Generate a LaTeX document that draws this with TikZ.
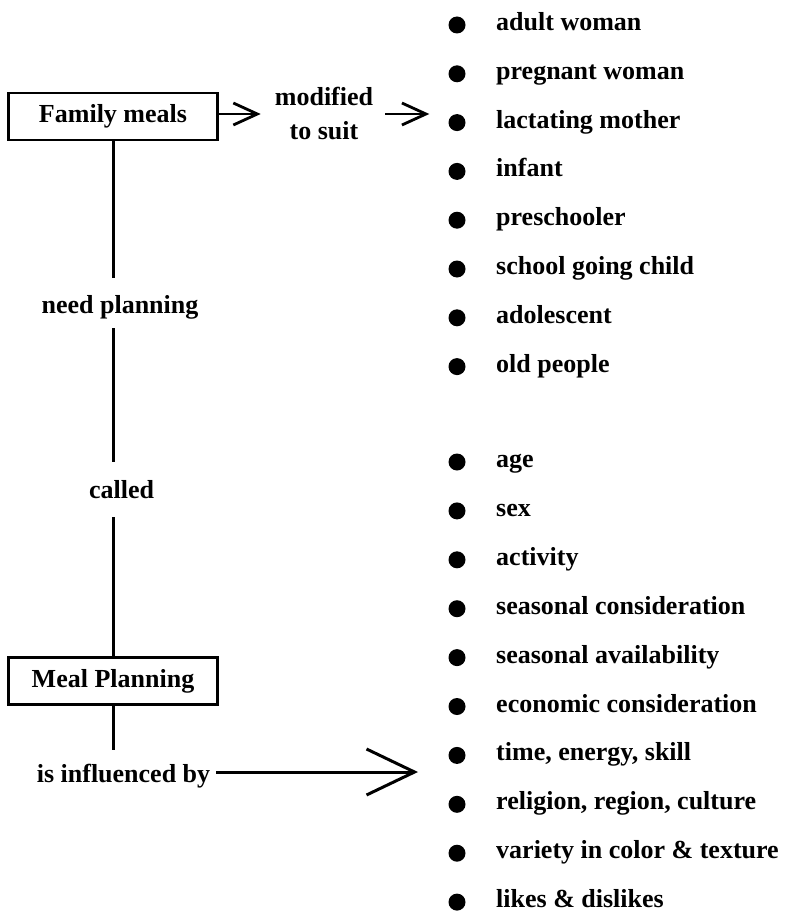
\documentclass[tikz,border=0pt]{standalone}
\usepackage{fontspec}
\setmainfont{Liberation Serif}
\usetikzlibrary{arrows.meta}
\begin{document}
\begin{tikzpicture}[x=1pt,y=-1pt,
  every node/.style={font=\fontsize{26}{34}\selectfont\bfseries},
  box/.style={draw, line width=2.6pt, minimum width=209pt, minimum height=47pt, inner sep=0pt},
  lbl/.style={inner sep=0pt, text height=18pt, text depth=6pt, anchor=base},
  bul/.style={circle, fill=black, minimum size=17pt, inner sep=0pt},
  item/.style={inner sep=0pt, anchor=base west},
  conn/.style={line width=3pt},
  smallarrow/.style={line width=2.8pt, -{Straight Barb[length=24pt,width=22pt,line width=2.8pt]}},
  bigarrow/.style={line width=3pt, -{Straight Barb[length=48pt,width=46pt,line width=3pt]}}]
\useasboundingbox (0,0) rectangle (786,915);

% left column
\node[box] (fm) at (113,116.5) {Family meals};
\node[lbl] (need) at (120,313) {need planning};
\node[lbl] (called) at (121.5,498) {called};
\node[box] (mp) at (113,681) {Meal Planning};
\node[lbl] (infl) at (123.5,782) {is influenced by};
\node[inner sep=0pt, align=center] (mod) at (324,114) {modified\\to suit};

\draw[conn, shorten >=17pt] (fm.south) -- (fm.south |- need.north);
\draw[conn, shorten <=9pt, shorten >=18pt] (fm.south |- need.south) -- (fm.south |- called.north);
\draw[conn, shorten <=13pt] (mp.north |- called.south) -- (mp.north);
\draw[conn, shorten >=14pt] (mp.south) -- (mp.south |- infl.north);

% top list
\foreach \t [count=\i] in {adult woman, pregnant woman, lactating mother, infant, preschooler, school going child, adolescent, old people}{
  \node[bul] (p\i) at (457,{25+48.8*(\i-1)}) {};
  \node[item] (pt\i) at (496,{30.5+48.8*(\i-1)}) {\t};
}
% bottom list
\foreach \t [count=\i] in {age, sex, activity, seasonal consideration, seasonal availability, economic consideration, {time, energy, skill}, {religion, region, culture}, variety in color \& texture, likes \& dislikes}{
  \node[bul] (q\i) at (457,{462+48.9*(\i-1)}) {};
  \node[item] (qt\i) at (496,{467.5+48.9*(\i-1)}) {\t};
}

% arrows
\draw[smallarrow, shorten >=14pt] (fm.east |- mod.west) -- (mod.west);
\draw[smallarrow, shorten <=12pt, shorten >=19pt] (mod.east) -- (mod.east -| p3.west);
\coordinate (tip) at (418,772);
\draw[bigarrow, shorten <=6pt] (tip -| infl.east) -- (tip);
\end{tikzpicture}
\end{document}
